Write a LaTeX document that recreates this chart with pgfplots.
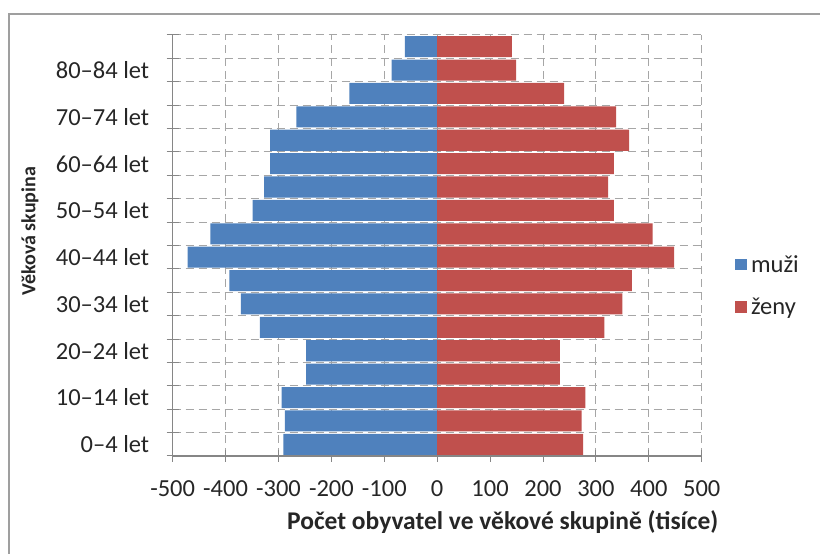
\documentclass[border=0pt]{standalone}
\usepackage{pgfplots}
\pgfplotsset{compat=1.18}
\usepackage{fontspec}
\setmainfont{Carlito}
\definecolor{muzi}{HTML}{4F81BD}
\definecolor{zeny}{HTML}{C0504D}
\definecolor{gridc}{HTML}{A6A6A6}
\definecolor{axc}{HTML}{868686}
\definecolor{txt}{HTML}{262626}
\begin{document}
\begin{tikzpicture}[x=1pt,y=1pt]
\useasboundingbox (0,0) rectangle (820,554);
\draw[color=gray!75, line width=1.5pt] (9,-20) -- (9,540) -- (840,540);
\begin{axis}[
  at={(172.7pt,98pt)}, anchor=south west,
  scale only axis, width=529pt, height=421pt,
  xmin=-500, xmax=500, ymin=-0.5, ymax=17.5,
  axis lines*=left,
  xtick={-500,-400,...,500},
  ytick={-0.5,0.5,...,17.5},
  yticklabels={},
  extra y ticks={0,2,4,6,8,10,12,14,16},
  extra y tick labels={0–4 let,10–14 let,20–24 let,30–34 let,40–44 let,50–54 let,60–64 let,70–74 let,80–84 let},
  extra y tick style={major tick length=0pt, grid=none, yticklabel style={xshift=-20pt}},
  grid=major,
  grid style={gridc, dash pattern=on 8pt off 5pt, line width=1pt},
  axis line style={axc, line width=1.2pt},
  tick style={axc, line width=1pt},
  tick align=center,
  major tick length=12pt,
  /pgf/number format/assume math mode=true,
  tick label style={font=\fontsize{24.5}{28}\selectfont, text=txt},
  xticklabel style={yshift=-15pt},
  xlabel={\textbf{Počet obyvatel ve věkové skupině (tisíce)}},
  xlabel style={at={(axis description cs:0.624,0)}, anchor=center, yshift=-66pt, font=\fontsize{25.5}{29}\selectfont, text=txt},
  ylabel={\textbf{Věková skupina}},
  ylabel style={at={(axis description cs:-0.2698,0.534)}, anchor=center, font=\fontsize{20}{24}\selectfont, text=txt},
  legend style={at={(axis description cs:1.057,0.404)}, anchor=west, draw=none, fill=none,
    font=\fontsize{24.5}{28}\selectfont, text=txt, row sep=20pt, column sep=2pt},
  legend cell align=left,
  legend image code/.code={\path[#1, draw=none] (0pt,-5.5pt) rectangle (12pt,6pt);},
]
\addplot[xbar, bar width=0.9, bar shift=0pt, fill=muzi, draw=none] coordinates {
(-291,0) (-288,1) (-294,2) (-248,3) (-248,4) (-335,5) (-371,6) (-393,7) (-472,8)
(-429,9) (-349,10) (-327,11) (-316,12) (-316,13) (-266,14) (-166,15) (-86,16) (-61,17)};
\addlegendentry{muži}
\addplot[xbar, bar width=0.9, bar shift=0pt, fill=zeny, draw=none] coordinates {
(276,0) (273,1) (280,2) (232,3) (232,4) (316,5) (350,6) (368,7) (448,8)
(407,9) (334,10) (323,11) (334,12) (363,13) (338,14) (240,15) (149,16) (141,17)};
\addlegendentry{ženy}
\end{axis}
\end{tikzpicture}
\end{document}
